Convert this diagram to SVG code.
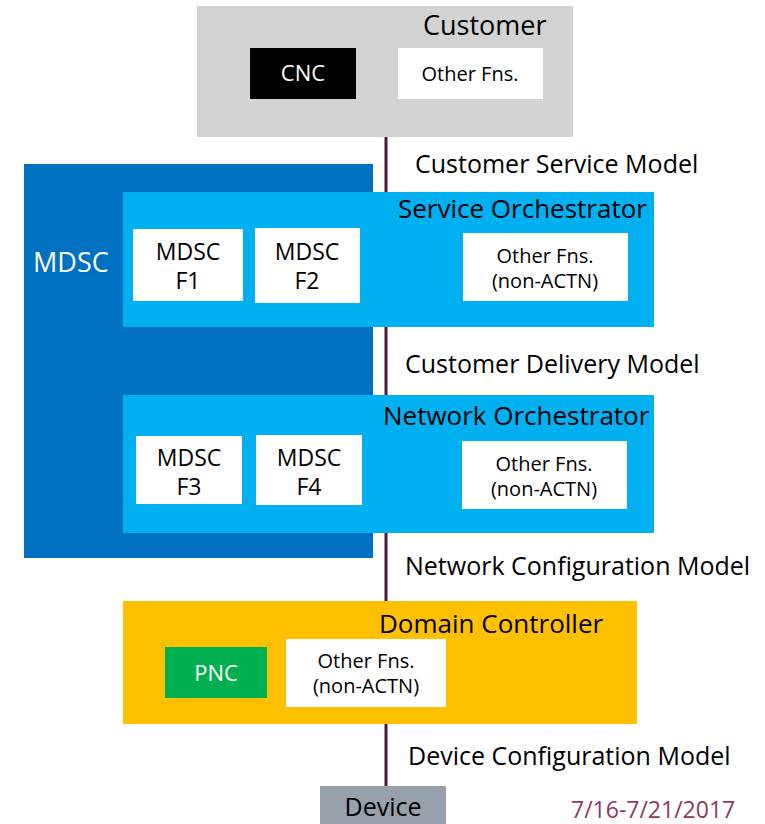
<svg xmlns="http://www.w3.org/2000/svg" width="765" height="824" viewBox="0 0 765 824">
<style>
text{font-family:"Open Sans","Noto Sans","DejaVu Sans",sans-serif;fill:#000}
.t{font-size:26px}
.l{font-size:25px}
.b{font-size:20px;text-anchor:middle}
.m{font-size:23px;text-anchor:middle}
.w{fill:#fff}
.conn{stroke:#4B1A3A;stroke-width:3;fill:none}
</style>
<rect width="765" height="824" fill="#fff"/>
<g id="connectors">
<line class="conn" x1="386" y1="137" x2="386" y2="786"/>
</g>
<g id="customer">
<rect x="197" y="6" width="376" height="131" fill="#D3D3D3"/>
<text x="423" y="35" style="font-size:27px">Customer</text>
</g>
<g id="cnc">
<rect x="250" y="48" width="106" height="51" fill="#000"/>
<text class="b w" x="303" y="81" style="font-size:22px">CNC</text>
</g>
<g id="customer-other">
<rect x="398" y="48" width="145" height="51" fill="#fff"/>
<text class="b" x="470" y="81">Other Fns.</text>
</g>
<g id="label-csm"><text class="l" x="415" y="173">Customer Service Model</text></g>
<g id="mdsc">
<rect x="24" y="164" width="349" height="394" fill="#0070C0"/>
<text class="w" x="33" y="272" style="font-size:27px">MDSC</text>
</g>
<g id="service-orchestrator">
<rect x="123" y="192" width="531" height="135" fill="#00B0F0"/>
<text class="t" x="398" y="218">Service Orchestrator</text>
</g>
<g id="mdsc-f1">
<rect x="133" y="229" width="110" height="72" fill="#fff"/>
<text class="m" x="188" y="260">MDSC</text><text class="m" x="188" y="289">F1</text>
</g>
<g id="mdsc-f2">
<rect x="255" y="228" width="105" height="75" fill="#fff"/>
<text class="m" x="307" y="260">MDSC</text><text class="m" x="307" y="289">F2</text>
</g>
<g id="so-other">
<rect x="463" y="233" width="165" height="68" fill="#fff"/>
<text class="b" x="545" y="263">Other Fns.</text><text class="b" x="545" y="288">(non-ACTN)</text>
</g>
<g id="label-cdm"><text class="l" x="405" y="373">Customer Delivery Model</text></g>
<g id="network-orchestrator">
<rect x="123" y="395" width="531" height="138" fill="#00B0F0"/>
<text class="t" x="383" y="425">Network Orchestrator</text>
</g>
<g id="mdsc-f3">
<rect x="136" y="436" width="106" height="68" fill="#fff"/>
<text class="m" x="189" y="466">MDSC</text><text class="m" x="189" y="495">F3</text>
</g>
<g id="mdsc-f4">
<rect x="256" y="435" width="106" height="70" fill="#fff"/>
<text class="m" x="309" y="466">MDSC</text><text class="m" x="309" y="495">F4</text>
</g>
<g id="no-other">
<rect x="462" y="441" width="165" height="68" fill="#fff"/>
<text class="b" x="544" y="471">Other Fns.</text><text class="b" x="544" y="496">(non-ACTN)</text>
</g>
<g id="label-ncm"><text class="l" x="405" y="575">Network Configuration Model</text></g>
<g id="domain-controller">
<rect x="123" y="601" width="514" height="123" fill="#FFC000"/>
<text class="t" x="379" y="633">Domain Controller</text>
</g>
<g id="pnc">
<rect x="165" y="647" width="102" height="51" fill="#00B050"/>
<text class="m w" x="216" y="681" style="font-size:22px">PNC</text>
</g>
<g id="dc-other">
<rect x="286" y="639" width="160" height="68" fill="#fff"/>
<text class="b" x="366" y="668">Other Fns.</text><text class="b" x="366" y="693">(non-ACTN)</text>
</g>
<g id="label-dcm"><text class="l" x="408" y="765">Device Configuration Model</text></g>
<g id="device">
<rect x="320" y="786" width="126" height="40" fill="#97A1AB"/>
<text x="383" y="816" text-anchor="middle" style="font-size:25px">Device</text>
</g>
<text x="571" y="818" style="font-size:23px;fill:#8B3A62">7/16-7/21/2017</text>
</svg>
